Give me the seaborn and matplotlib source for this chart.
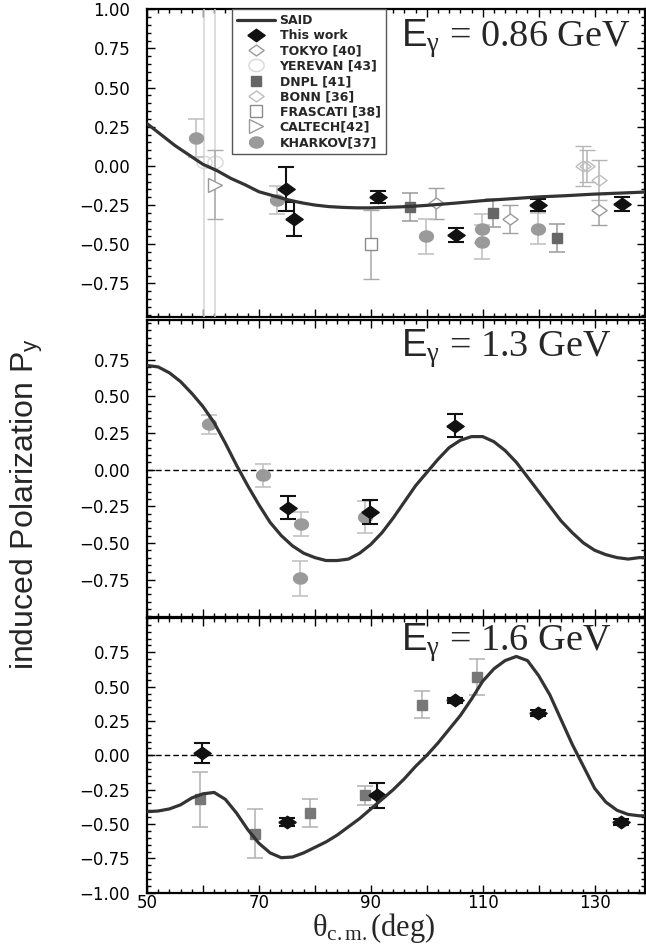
import numpy as np
import matplotlib
matplotlib.use("Agg")
import matplotlib.pyplot as plt
import seaborn as sns
import pandas as pd
from matplotlib.lines import Line2D
from matplotlib.legend_handler import HandlerLine2D
from matplotlib.ticker import MultipleLocator, FixedLocator, FixedFormatter

# ---------------- data ----------------
panel_titles = ["0.86", "1.3", "1.6"]

# SAID curves
said_086_x = [50, 52.5, 55, 57.5, 60, 62.5, 65, 67.5, 70, 72.5, 75, 77.5, 80, 82.5, 85, 87.5,
              90, 92.5, 95, 97.5, 100, 105, 110, 115, 120, 125, 130, 135, 139]
said_086_y = [0.27, 0.20, 0.13, 0.07, 0.01, -0.03, -0.08, -0.12, -0.165, -0.19, -0.215, -0.235,
              -0.25, -0.26, -0.265, -0.268, -0.268, -0.265, -0.262, -0.258, -0.252, -0.238,
              -0.222, -0.21, -0.198, -0.19, -0.18, -0.173, -0.167]

said_13_x = [50, 52, 54, 56, 58, 60, 62, 64, 66, 68, 70, 72, 74, 76, 78, 80, 82, 84, 86, 88,
             90, 92, 94, 96, 98, 100, 102, 104, 106, 108, 110, 112, 114, 116, 118, 120, 122,
             124, 126, 128, 130, 132, 134, 136, 138, 139]
said_13_y = [0.71, 0.70, 0.66, 0.60, 0.52, 0.43, 0.32, 0.18, 0.03, -0.11, -0.24, -0.36, -0.45,
             -0.52, -0.57, -0.60, -0.62, -0.62, -0.61, -0.57, -0.51, -0.43, -0.33, -0.22,
             -0.11, -0.02, 0.07, 0.15, 0.20, 0.225, 0.225, 0.19, 0.13, 0.05, -0.05, -0.15,
             -0.25, -0.35, -0.43, -0.50, -0.55, -0.58, -0.60, -0.61, -0.60, -0.60]

said_16_x = [50, 52, 54, 56, 58, 60, 62, 64, 66, 68, 70, 72, 74, 76, 78, 80, 82, 84, 86, 88,
             90, 92, 94, 96, 98, 100, 102, 104, 106, 108, 110, 112, 114, 116, 118, 120, 122,
             124, 126, 128, 130, 132, 134, 136, 138, 139]
said_16_y = [-0.41, -0.405, -0.39, -0.36, -0.31, -0.28, -0.27, -0.32, -0.42, -0.54, -0.64,
             -0.71, -0.745, -0.74, -0.71, -0.67, -0.63, -0.58, -0.52, -0.46, -0.39, -0.32,
             -0.25, -0.17, -0.08, 0.00, 0.09, 0.19, 0.29, 0.41, 0.54, 0.63, 0.69, 0.72, 0.69,
             0.58, 0.44, 0.26, 0.08, -0.08, -0.24, -0.34, -0.40, -0.43, -0.44, -0.44]

# 0.86 GeV data
thiswork_086_x = [74.9, 76.3, 91.3, 105.3, 119.9, 134.9]
thiswork_086_y = [-0.145, -0.34, -0.20, -0.44, -0.25, -0.245]
thiswork_086_e = [0.14, 0.11, 0.04, 0.045, 0.04, 0.045]
tokyo_086_x = [101.7, 114.8, 130.8]
tokyo_086_y = [-0.24, -0.34, -0.28]
tokyo_086_e = [0.10, 0.09, 0.10]
yerevan_086_x = [60.1, 62.2]
yerevan_086_y = [0.025, 0.025]
yerevan_086_e = [1.6, 1.6]
dnpl_086_x = [97.0, 111.8, 123.3]
dnpl_086_y = [-0.26, -0.30, -0.46]
dnpl_086_e = [0.09, 0.09, 0.09]
bonn_086_x = [127.9, 128.6, 130.8]
bonn_086_y = [0.0, 0.0, -0.09]
bonn_086_e = [0.13, 0.10, 0.13]
frascati_086_x = [90.0]
frascati_086_y = [-0.50]
frascati_086_e = [0.22]
caltech_086_x = [62.2]
caltech_086_y = [-0.12]
caltech_086_e = [0.22]
kharkov_086_x = [58.75, 73.3, 99.9, 109.8, 109.8, 119.8]
kharkov_086_y = [0.18, -0.22, -0.45, -0.40, -0.485, -0.40]
kharkov_086_e = [0.12, 0.09, 0.11, 0.09, 0.11, 0.10]

# 1.3 GeV data
thiswork_13_x = [75.2, 89.8, 105.0]
thiswork_13_y = [-0.26, -0.29, 0.30]
thiswork_13_e = [0.08, 0.08, 0.08]
kharkov_13_x = [61.1, 70.7, 77.6, 77.4, 88.9]
kharkov_13_y = [0.31, -0.04, -0.37, -0.74, -0.325]
kharkov_13_e = [0.065, 0.08, 0.08, 0.12, 0.11]

# 1.6 GeV data
thiswork_16_x = [59.9, 75.0, 91.1, 105.0, 119.9, 134.8]
thiswork_16_y = [0.017, -0.485, -0.29, 0.40, 0.31, -0.485]
thiswork_16_e = [0.07, 0.03, 0.09, 0.02, 0.02, 0.02]
dnpl_16_x = [59.5, 69.3, 79.2, 89.0, 99.1, 109.0]
dnpl_16_y = [-0.32, -0.57, -0.42, -0.29, 0.37, 0.57]
dnpl_16_e = [0.20, 0.18, 0.10, 0.07, 0.10, 0.13]

legend_labels = ["SAID", "This work", "TOKYO [40]", "YEREVAN [43]", "DNPL [41]",
                 "BONN [36]", "FRASCATI [38]", "CALTECH[42]", "KHARKOV[37]"]

x_ticks = [50, 60, 70, 80, 90, 100, 110, 120, 130]
x_tick_labels = ["50", "", "70", "", "90", "", "110", "", "130"]
y_ticks_top = [-0.75, -0.5, -0.25, 0.0, 0.25, 0.5, 0.75, 1.0]
y_ticks_mid = [-0.75, -0.5, -0.25, 0.0, 0.25, 0.5, 0.75]
y_ticks_bot = [-1.0, -0.75, -0.5, -0.25, 0.0, 0.25, 0.5, 0.75]

# ---------------- style ----------------
sns.set_theme(style="ticks")
plt.rcParams["font.family"] = ["DejaVu Sans"]
plt.rcParams["mathtext.fontset"] = "custom"
plt.rcParams["mathtext.rm"] = "Liberation Serif"
plt.rcParams["mathtext.it"] = "Liberation Serif:italic"
plt.rcParams["mathtext.bf"] = "Liberation Serif:bold"
plt.rcParams["mathtext.sf"] = "Liberation Sans"
plt.rcParams["axes.unicode_minus"] = True

W, H = 646, 946
fig = plt.figure(figsize=(W / 100, H / 100), dpi=100)

def px_axes(left, top, right, bottom):
    return fig.add_axes([left / W, 1 - bottom / H, (right - left) / W, (bottom - top) / H])

ax_top = px_axes(147, 9, 645, 317)
ax_mid = px_axes(147, 320, 645, 617)
ax_bot = px_axes(147, 618, 645, 893)

diamond = [(-1, 0), (0, 0.72), (1, 0), (0, -0.72), (-1, 0)]
tt = np.linspace(0, 2 * np.pi, 40)
ellipse = list(zip(np.cos(tt), 0.8 * np.sin(tt)))

styles = {
    "thiswork": dict(marker=diamond, ms=12.5, mfc="#111111", mec="#111111", ecolor="#111111",
                     elinewidth=1.5, capsize=5.5, capthick=1.5, zorder=6),
    "tokyo": dict(marker=diamond, ms=11, mfc="white", mec="#9a9a9a", mew=1.0, ecolor="#a0a0a0",
                  elinewidth=1.1, capsize=5.5, capthick=1.1, zorder=4),
    "yerevan": dict(marker=ellipse, ms=11, mfc="none", mec="#d8d8d8", mew=1.0, ecolor="#d4d4d4",
                    elinewidth=1.1, capsize=0, zorder=3),
    "dnpl": dict(marker="s", ms=7.5, mfc="#666666", mec="#666666", ecolor="#9a9a9a",
                 elinewidth=1.1, capsize=5.5, capthick=1.1, zorder=5),
    "bonn": dict(marker=diamond, ms=11, mfc="none", mec="#bdbdbd", mew=1.0, ecolor="#b5b5b5",
                 elinewidth=1.1, capsize=5.5, capthick=1.1, zorder=4),
    "frascati": dict(marker="s", ms=8.5, mfc="white", mec="#8a8a8a", mew=1.0, ecolor="#aaaaaa",
                     elinewidth=1.1, capsize=5.5, capthick=1.1, zorder=4),
    "caltech": dict(marker=">", ms=9.5, mfc="white", mec="#9a9a9a", mew=1.0, ecolor="#aaaaaa",
                    elinewidth=1.1, capsize=5.5, capthick=1.1, zorder=4),
    "kharkov": dict(marker=ellipse, ms=10, mfc="#9a9a9a", mec="#9a9a9a", ecolor="#c2c2c2",
                    elinewidth=1.2, capsize=5.5, capthick=1.2, zorder=5),
}

def pts(ax, x, y, e, key):
    ax.errorbar(x, y, yerr=e, ls="none", **styles[key])

def curve(ax, x, y):
    df = pd.DataFrame({"theta": x, "P": y})
    sns.lineplot(data=df, x="theta", y="P", ax=ax, color="#333333", lw=2.3,
                 estimator=None, sort=True, zorder=7)

# top panel
curve(ax_top, said_086_x, said_086_y)
pts(ax_top, yerevan_086_x, yerevan_086_y, yerevan_086_e, "yerevan")
pts(ax_top, caltech_086_x, caltech_086_y, caltech_086_e, "caltech")
pts(ax_top, frascati_086_x, frascati_086_y, frascati_086_e, "frascati")
pts(ax_top, bonn_086_x, bonn_086_y, bonn_086_e, "bonn")
pts(ax_top, tokyo_086_x, tokyo_086_y, tokyo_086_e, "tokyo")
pts(ax_top, kharkov_086_x, kharkov_086_y, kharkov_086_e, "kharkov")
pts(ax_top, dnpl_086_x, dnpl_086_y, dnpl_086_e, "dnpl")
pts(ax_top, thiswork_086_x, thiswork_086_y, thiswork_086_e, "thiswork")

# middle panel
curve(ax_mid, said_13_x, said_13_y)
pts(ax_mid, kharkov_13_x, kharkov_13_y, kharkov_13_e, "kharkov")
pts(ax_mid, thiswork_13_x, thiswork_13_y, thiswork_13_e, "thiswork")

# bottom panel
curve(ax_bot, said_16_x, said_16_y)
styles["dnpl"].update(mfc="#777777", mec="#777777", ecolor="#b0b0b0")
pts(ax_bot, dnpl_16_x, dnpl_16_y, dnpl_16_e, "dnpl")
pts(ax_bot, thiswork_16_x, thiswork_16_y, thiswork_16_e, "thiswork")

for ax in (ax_mid, ax_bot):
    ax.axhline(0, color="black", lw=1.0, dashes=(4, 2.2), zorder=2)

ylims = [(-0.965, 1.002), (-1.005, 1.02), (-1.002, 1.0)]
yticks = [y_ticks_top, y_ticks_mid, y_ticks_bot]
baselines = [(47, 9, 317), (357, 320, 617), (651, 618, 893)]
for ax, yl, yt, title, (base_px, top_px, bot_px) in zip((ax_top, ax_mid, ax_bot), ylims,
                                                        yticks, panel_titles, baselines):
    ax.set_xlim(50, 139)
    ax.set_ylim(*yl)
    ax.set_xlabel("")
    ax.set_ylabel("")
    ax.xaxis.set_major_locator(FixedLocator(x_ticks))
    ax.xaxis.set_minor_locator(MultipleLocator(2))
    ax.yaxis.set_major_locator(FixedLocator(yt))
    ax.yaxis.set_minor_locator(MultipleLocator(0.05))
    ax.set_yticklabels([f"{v:.2f}".replace("-", "\u2212") for v in yt])
    ax.tick_params(which="both", direction="in", top=True, right=True, width=1.0,
                   color="black", labelsize=12, labelcolor="black")
    ax.tick_params(which="major", length=6)
    ax.tick_params(which="minor", length=3)
    ax.tick_params(axis="y", pad=12)
    for s in ax.spines.values():
        s.set_linewidth(1.6)
        s.set_color("black")
    ax.set_facecolor("white")
    ax.text(0.51, (bot_px - base_px) / (bot_px - top_px),
            r"$\mathsf{E}_{\mathrm{\gamma}}$ = " + title + " GeV", transform=ax.transAxes,
            family="Liberation Serif", fontsize=27.5, ha="left", va="baseline")

for ax in (ax_top, ax_mid):
    ax.tick_params(axis="x", labelbottom=False)
ax_bot.xaxis.set_major_formatter(FixedFormatter(x_tick_labels))
ax_bot.tick_params(axis="x", pad=1)

# legend
class RightMarker(HandlerLine2D):
    def get_xdata(self, legend, xdescent, ydescent, width, height, fontsize):
        xdata, xm = super().get_xdata(legend, xdescent, ydescent, width, height, fontsize)
        return xdata, [-xdescent + width - 0.2 * fontsize]

def proxy(key):
    s = styles[key]
    return Line2D([], [], ls="none", marker=s["marker"], ms=s["ms"], mfc=s["mfc"],
                  mec=s["mec"], mew=s.get("mew", 1.0))

styles["dnpl"].update(mfc="#666666", mec="#666666")
handles = [Line2D([], [], color="#333333", lw=2.3), proxy("thiswork"), proxy("tokyo"),
           proxy("yerevan"), proxy("dnpl"), proxy("bonn"), proxy("frascati"),
           proxy("caltech"), proxy("kharkov")]
leg = fig.legend(handles, legend_labels, loc="upper left",
                 bbox_to_anchor=(232 / W, 1 - 9 / H), borderaxespad=0,
                 prop=dict(family="DejaVu Sans", weight="bold", size=9),
                 handlelength=3.0, handletextpad=0.4, labelspacing=0.18,
                 borderpad=0.4, numpoints=1, fancybox=False, framealpha=1,
                 edgecolor="#555555", handler_map={Line2D: RightMarker()})
leg.get_frame().set_linewidth(1.0)
leg.set_zorder(10)

# axis labels
fig.text(27 / W, 1 - 504 / H, r"induced Polarization P$_{\mathsf{y}}$", rotation=90,
         family="Liberation Sans", fontsize=23, ha="center", va="center")
fig.text(374 / W, 1 - 936 / H, r"θ$_{\mathrm{c.m.}}$(deg)", family="Liberation Serif",
         fontsize=22, ha="center", va="baseline")

fig.savefig("out.png", dpi=100, facecolor="white")
